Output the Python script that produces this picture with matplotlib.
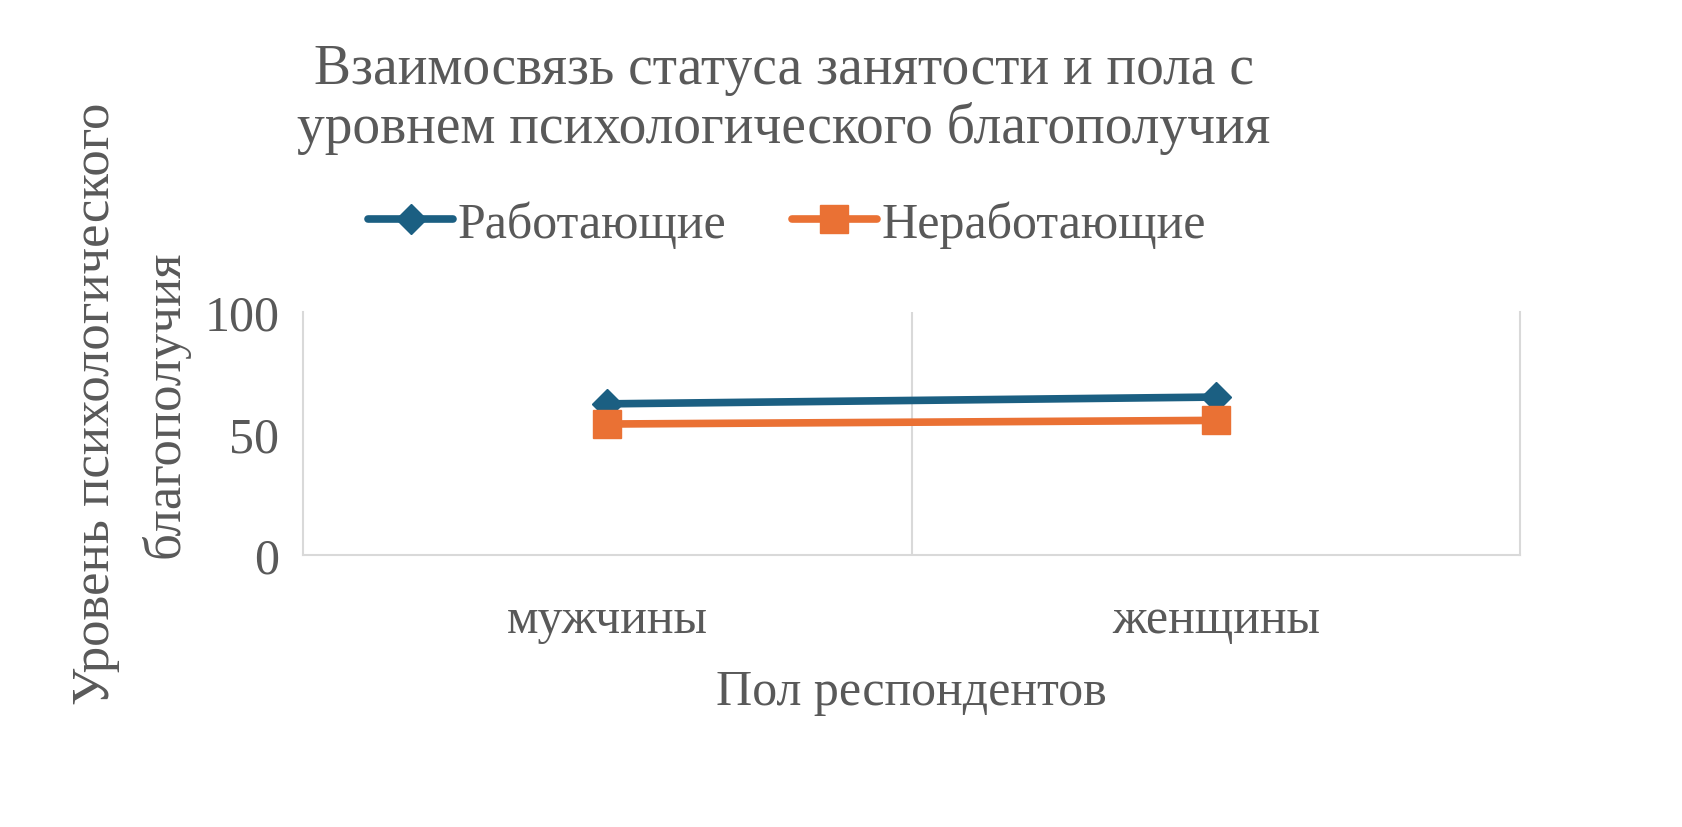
import matplotlib
matplotlib.use("Agg")
import matplotlib.pyplot as plt

categories = ["мужчины", "женщины"]
working = [62.2, 65.0]
nonworking = [53.9, 55.4]
series_names = ["Работающие", "Неработающие"]
yticks = [0, 50, 100]

plt.rcParams['font.family'] = ['Liberation Serif', 'DejaVu Serif']
txt = '#595959'

fig = plt.figure(figsize=(16.82, 8.28), dpi=100)
ax = fig.add_axes([303/1682, 1-556/828, (1520-303)/1682, (556-313)/828])

x = list(range(len(categories)))
ax.plot(x, working, color='#1b5f82', lw=5.5, marker='D', ms=15, label=series_names[0], solid_capstyle='round')
ax.plot(x, nonworking, color='#ea7134', lw=5.5, marker='s', ms=20, label=series_names[1], solid_capstyle='round')

ax.set_xlim(-0.5, len(categories) - 0.5)
ax.set_ylim(0, 100)
ax.set_yticks(yticks)
ax.set_yticklabels([str(v) for v in yticks])
ax.set_xticks(x)
ax.set_xticklabels(categories)
for b in [0.5]:
    ax.axvline(b, color='#d9d9d9', lw=1.5, zorder=0)
for s in ['top']:
    ax.spines[s].set_visible(False)
for s in ['left', 'right', 'bottom']:
    ax.spines[s].set_color('#d9d9d9')
    ax.spines[s].set_linewidth(1.5)
ax.tick_params(axis='both', length=0, labelsize=36, colors=txt)
ax.tick_params(axis='y', pad=17)
ax.tick_params(axis='x', pad=30)

ax.set_xlabel("Пол респондентов", fontsize=36, color=txt, labelpad=18)
ax.set_ylabel("Уровень психологического\nблагополучия", fontsize=38, color=txt, labelpad=20, linespacing=1.55)
ax.yaxis.set_label_coords(-0.093, 0.625)

fig.text(0.466, 0.947, "Взаимосвязь статуса занятости и пола с\nуровнем психологического благополучия",
         ha='center', va='top', fontsize=40, color=txt, linespacing=1.15)

leg = fig.legend(loc='center', bbox_to_anchor=(0.468, 0.728), ncol=2, frameon=False,
                 fontsize=36, handlelength=1.7, columnspacing=1.3, handletextpad=0.1,
                 labelcolor=txt)

fig.savefig("out.png", dpi=100)
